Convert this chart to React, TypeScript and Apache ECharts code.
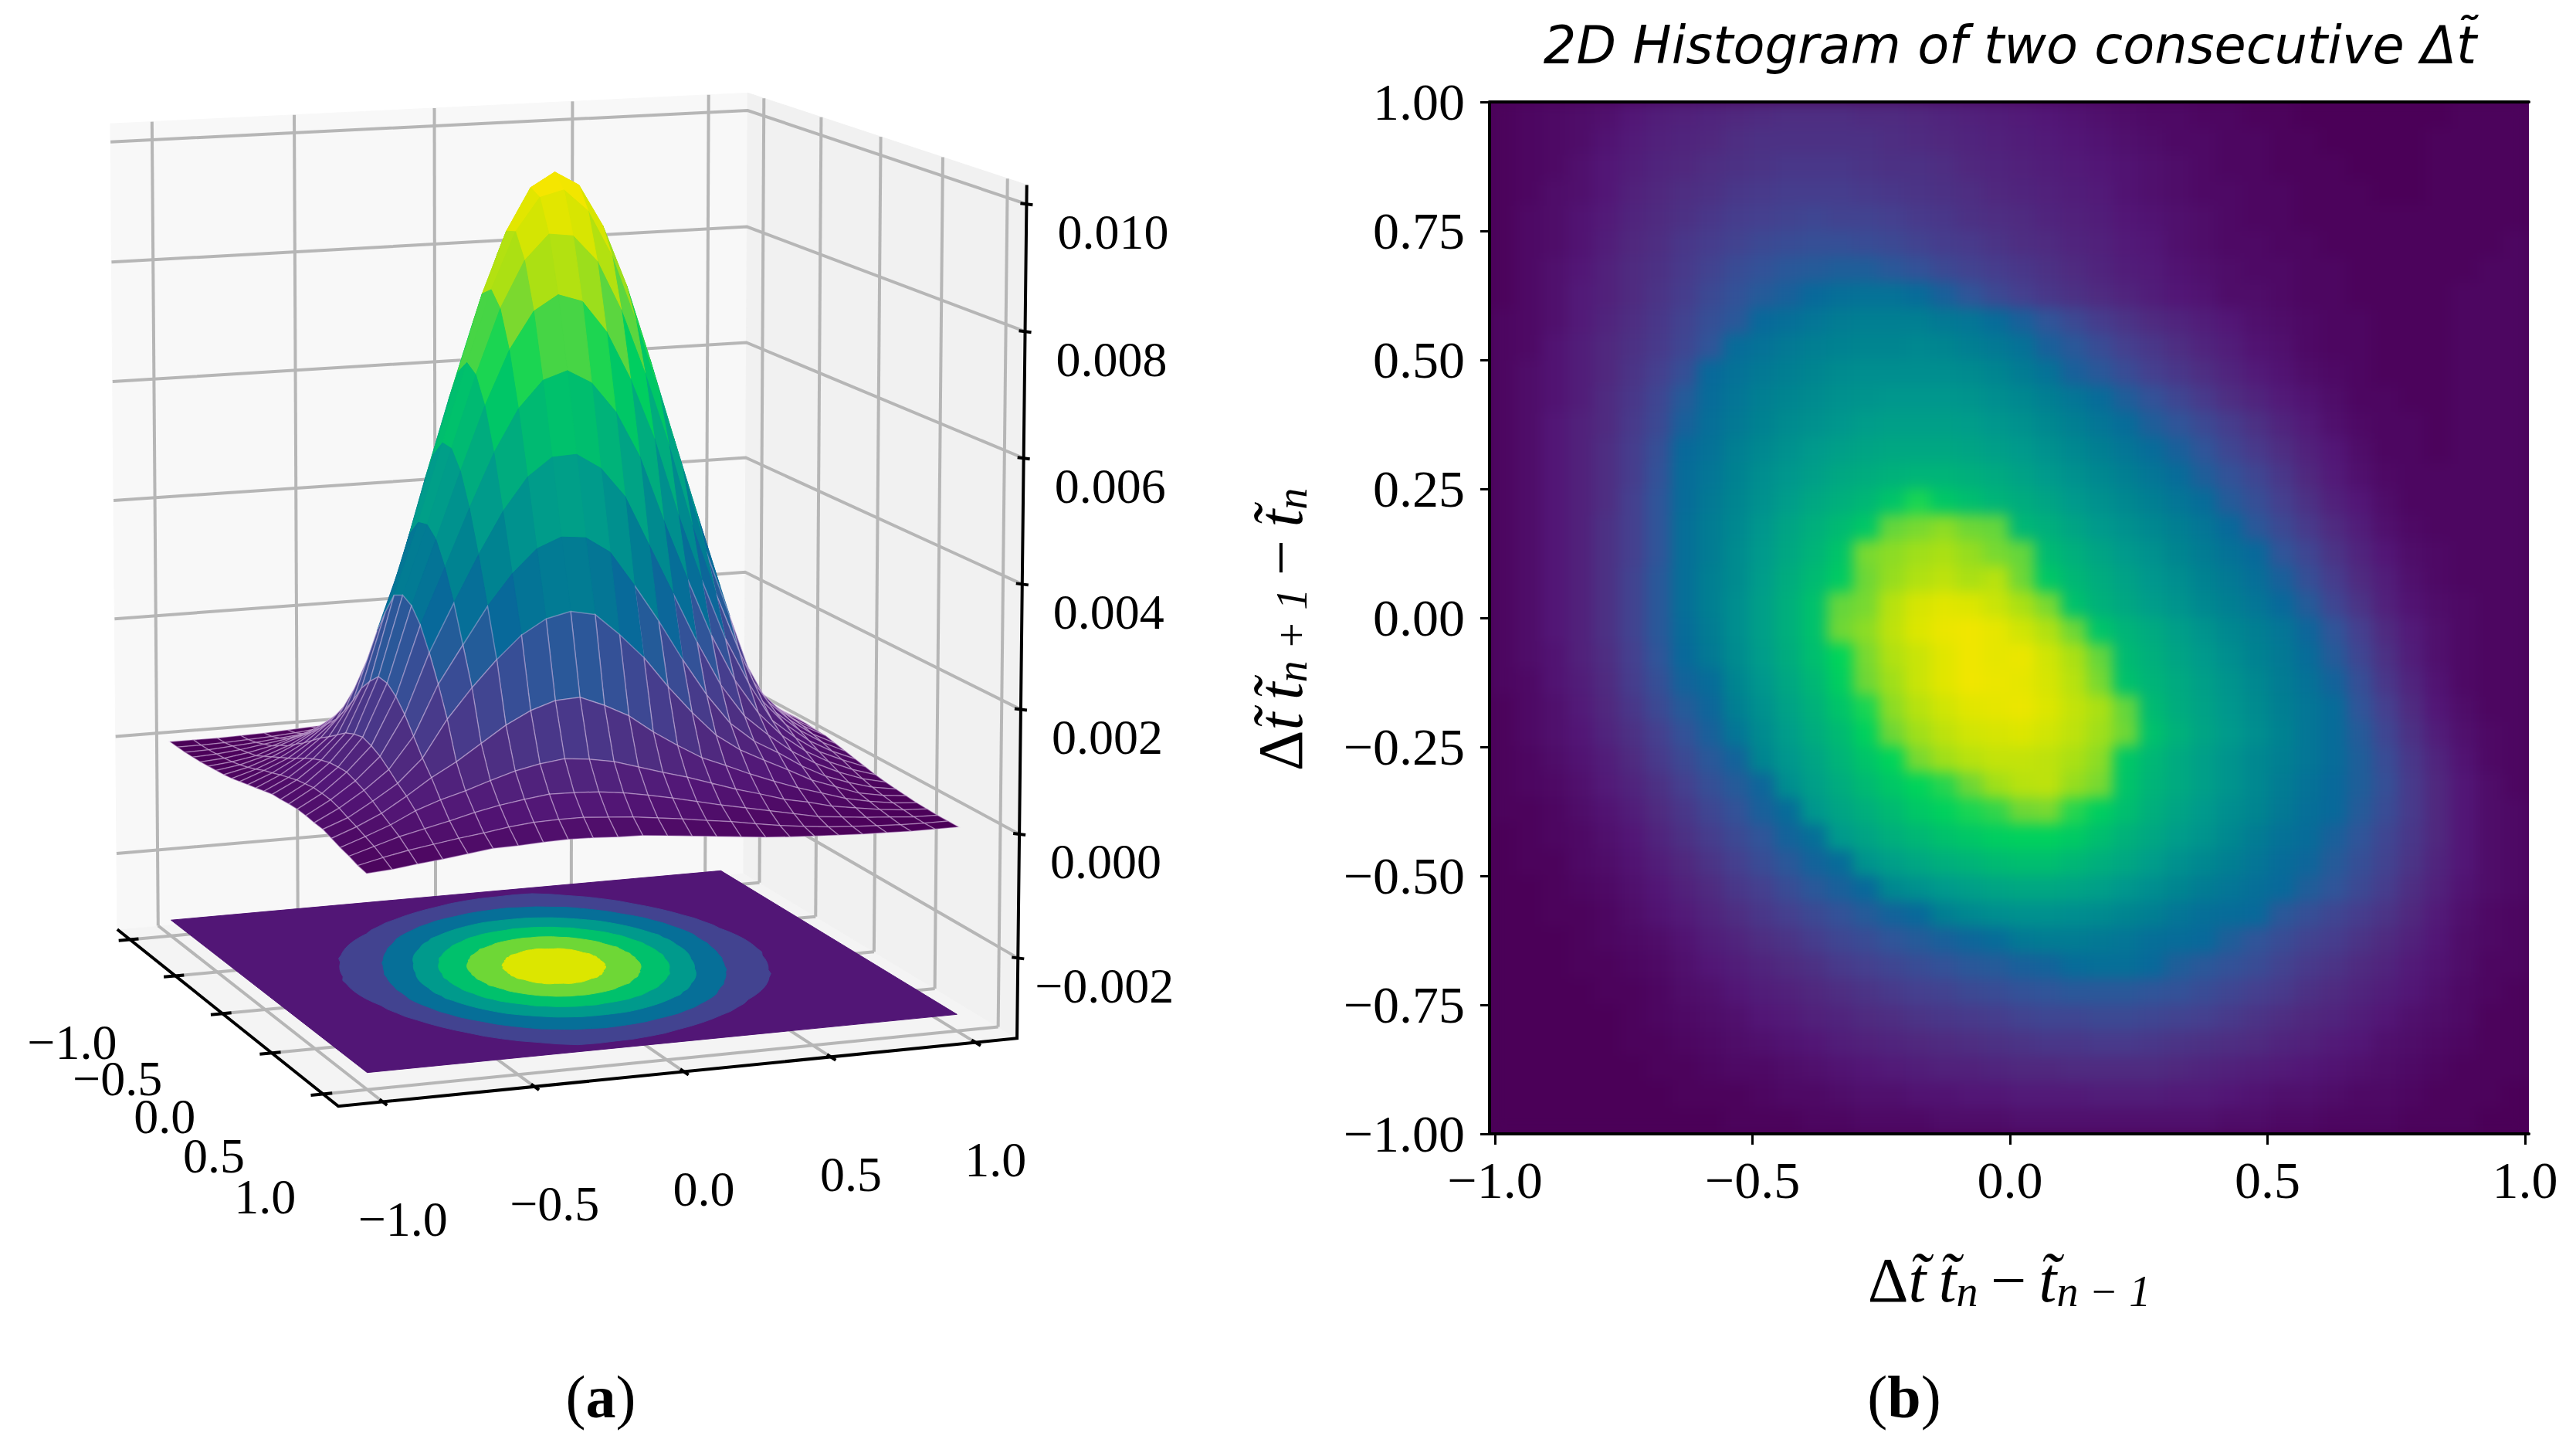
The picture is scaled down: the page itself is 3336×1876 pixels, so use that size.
import React, { useEffect, useRef } from "react";
import * as echarts from "echarts";

// ---------- data: 3D surface panel (a), z in units of 1e-5, rows X=-1..1, columns Y=-1..1
const surfaceM12 = [1,1,1,2,3,5,7,9,12,16,20,24,28,32,33,35,36,35,33,32,27,22,18,13,10];
const surfaceM11 = [1,1,2,4,6,9,13,18,24,31,36,42,47,52,55,58,58,57,53,47,42,36,30,22,13];
const surfaceM10 = [1,2,5,8,12,16,24,32,40,48,57,66,74,81,86,88,89,84,78,70,60,51,42,30,18];
const surfaceM9 = [2,4,8,14,20,30,38,50,61,74,87,98,110,122,129,133,128,120,108,95,84,70,51,36,22];
const surfaceM8 = [3,6,12,20,32,44,58,73,90,106,129,154,183,203,219,217,204,184,158,132,110,84,60,42,27];
const surfaceM7 = [5,9,16,30,44,64,83,103,130,170,215,265,305,340,348,339,316,280,238,191,132,95,70,47,32];
const surfaceM6 = [7,13,24,38,58,83,105,137,187,247,313,373,429,455,459,443,406,357,298,238,158,108,78,53,33];
const surfaceM5 = [9,18,32,50,73,103,137,191,264,346,427,508,556,581,579,550,498,431,357,280,184,120,84,57,35];
const surfaceM4 = [12,24,40,61,90,130,187,264,358,456,562,637,686,708,695,652,584,498,406,316,204,128,89,58,36];
const surfaceM3 = [16,31,48,74,106,170,247,346,456,581,680,759,810,823,799,739,652,550,443,339,217,133,88,58,35];
const surfaceM2 = [20,36,57,87,129,215,313,427,562,680,785,866,909,914,874,799,695,579,459,348,219,129,86,55,33];
const surfaceM1 = [24,42,66,98,154,265,373,508,637,759,866,941,977,967,914,823,708,581,455,340,203,122,81,52,32];
const surface0 = [28,47,74,110,183,305,429,556,686,810,909,977,1000,977,909,810,686,556,429,305,183,110,74,47,28];
const surfaceP1 = [32,52,81,122,203,340,455,581,708,823,914,967,977,941,866,759,637,508,373,265,154,98,66,42,24];
const surfaceP2 = [33,55,86,129,219,348,459,579,695,799,874,914,909,866,785,680,562,427,313,215,129,87,57,36,20];
const surfaceP3 = [35,58,88,133,217,339,443,550,652,739,799,823,810,759,680,581,456,346,247,170,106,74,48,31,16];
const surfaceP4 = [36,58,89,128,204,316,406,498,584,652,695,708,686,637,562,456,358,264,187,130,90,61,40,24,12];
const surfaceP5 = [35,57,84,120,184,280,357,431,498,550,579,581,556,508,427,346,264,191,137,103,73,50,32,18,9];
const surfaceP6 = [33,53,78,108,158,238,298,357,406,443,459,455,429,373,313,247,187,137,105,83,58,38,24,13,7];
const surfaceP7 = [32,47,70,95,132,191,238,280,316,339,348,340,305,265,215,170,130,103,83,64,44,30,16,9,5];
const surfaceP8 = [27,42,60,84,110,132,158,184,204,217,219,203,183,154,129,106,90,73,58,44,32,20,12,6,3];
const surfaceP9 = [22,36,51,70,84,95,108,120,128,133,129,122,110,98,87,74,61,50,38,30,20,14,8,4,2];
const surfaceP10 = [18,30,42,51,60,70,78,84,89,88,86,81,74,66,57,48,40,32,24,16,12,8,5,2,1];
const surfaceP11 = [13,22,30,36,42,47,53,57,58,58,55,52,47,42,36,31,24,18,13,9,6,4,2,1,1];
const surfaceP12 = [10,13,18,22,27,32,33,35,36,35,33,32,28,24,20,16,12,9,7,5,3,2,1,1,1];
const surfaceRows = [surfaceM12,surfaceM11,surfaceM10,surfaceM9,surfaceM8,surfaceM7,surfaceM6,surfaceM5,surfaceM4,surfaceM3,surfaceM2,surfaceM1,surface0,surfaceP1,surfaceP2,surfaceP3,surfaceP4,surfaceP5,surfaceP6,surfaceP7,surfaceP8,surfaceP9,surfaceP10,surfaceP11,surfaceP12];

const xyTicks = [-1, -0.5, 0, 0.5, 1];
const zTicks = [-0.002, 0, 0.002, 0.004, 0.006, 0.008, 0.01];
const contourLevels = [150, 300, 450, 600, 750, 900];
const contourShades = [0.21, 0.36, 0.5, 0.64, 0.79, 0.93];

// ---------- data: heatmap panel (b), rows from y=1 down to y=-1, columns x=-1..1, percent of colour range
const hist0 = [1,2,3,4,5,7,9,10,11,12,13,14,14,14,13,13,12,11,10,9,8,7,6,5,4,3,3,2,2,1,1,0,0,0,0,0,0,1,1,1];
const hist1 = [1,2,3,4,6,8,10,11,12,14,15,15,15,15,15,14,13,12,11,10,9,8,7,6,5,4,3,3,2,2,1,1,0,0,0,0,1,1,1,1];
const hist2 = [1,2,3,5,7,9,11,12,14,15,16,17,17,17,16,15,15,14,12,11,10,9,8,7,6,5,4,3,2,2,1,1,1,0,0,0,1,1,1,1];
const hist3 = [1,2,4,5,7,10,12,14,15,17,18,19,19,19,18,17,16,15,14,12,11,10,9,8,6,5,4,3,3,2,2,1,1,1,0,0,1,1,1,1];
const hist4 = [1,3,4,6,8,11,13,15,17,19,20,21,22,21,21,20,18,17,15,14,13,11,10,9,7,6,5,4,3,2,2,1,1,1,1,1,1,1,1,1];
const hist5 = [1,3,4,6,9,12,14,17,19,21,23,24,25,25,24,23,21,19,18,16,14,13,11,10,8,7,5,4,3,3,2,2,1,1,1,1,1,1,1,2];
const hist6 = [1,3,5,7,10,13,15,18,21,24,26,28,29,30,30,28,26,23,21,19,17,15,13,11,9,8,6,5,4,3,3,2,2,1,1,1,1,1,2,2];
const hist7 = [1,3,5,8,10,13,16,19,23,26,29,31,34,36,37,37,35,31,27,23,20,17,15,13,11,9,7,6,4,4,3,2,2,1,1,1,1,2,2,2];
const hist8 = [2,3,5,8,11,14,17,21,25,28,34,36,38,40,41,41,41,39,38,35,31,27,23,19,16,13,11,9,7,5,4,3,2,2,1,1,1,2,2,2];
const hist9 = [2,3,6,9,12,15,18,22,27,35,37,39,41,42,43,43,44,43,41,39,37,31,28,24,20,17,14,11,9,6,5,3,2,2,1,1,1,2,2,2];
const hist10 = [2,4,6,9,12,16,20,25,34,37,39,41,43,45,46,46,46,46,45,43,40,37,31,28,24,20,17,14,11,8,6,4,3,2,1,1,1,2,2,2];
const hist11 = [2,4,6,9,13,17,22,29,35,38,41,43,45,47,48,49,49,49,48,46,44,41,38,35,30,26,22,18,14,11,8,6,4,2,2,1,1,2,2,2];
const hist12 = [2,4,7,10,13,18,23,31,36,39,42,45,47,49,51,52,52,52,51,49,47,44,41,38,35,30,27,23,19,15,11,8,5,3,2,2,1,2,2,2];
const hist13 = [2,4,7,10,14,19,25,34,37,41,44,47,50,52,54,55,55,55,54,52,50,47,44,41,38,35,31,27,22,18,14,10,7,4,2,2,1,2,2,2];
const hist14 = [2,4,7,10,14,19,26,35,38,42,46,49,52,55,57,59,60,60,58,56,53,50,47,44,41,38,35,30,26,22,17,12,8,5,3,2,2,2,2,2];
const hist15 = [2,4,7,10,14,20,27,35,39,43,47,51,55,58,61,65,72,66,63,60,57,54,50,47,44,41,38,35,29,25,20,15,10,7,4,2,2,2,2,2];
const hist16 = [2,4,7,10,15,20,27,36,40,44,49,54,58,62,66,78,80,82,79,78,61,58,54,50,47,44,41,38,34,28,23,18,13,9,5,3,2,2,2,2];
const hist17 = [2,4,7,10,15,20,27,36,40,45,50,55,60,65,80,82,84,85,83,80,78,62,58,54,50,47,43,40,37,34,27,22,16,11,7,4,3,2,2,2];
const hist18 = [2,4,7,10,15,21,28,36,41,45,51,57,62,67,79,83,86,88,85,87,79,66,61,57,53,49,46,42,39,36,31,25,19,13,9,5,3,2,2,2];
const hist19 = [2,4,7,10,15,21,28,36,41,46,52,58,64,78,80,87,92,94,93,90,85,80,64,59,55,51,48,44,41,38,34,29,22,16,10,6,4,3,2,2];
const hist20 = [2,4,7,10,15,21,28,35,40,46,52,58,64,79,82,88,93,96,97,95,91,86,79,65,60,56,52,48,44,41,38,33,27,20,13,8,5,3,2,2];
const hist21 = [2,4,6,10,14,20,27,34,39,45,51,57,63,70,80,86,90,94,97,95,96,91,85,78,62,58,54,50,46,42,39,35,29,22,15,9,5,3,2,2];
const hist22 = [2,3,6,9,13,19,25,32,35,43,49,55,61,68,79,84,90,94,97,96,95,92,87,80,64,60,56,52,48,44,40,37,32,25,17,11,6,3,2,2];
const hist23 = [1,3,5,8,12,17,23,29,33,41,47,53,59,65,72,82,87,91,94,95,96,93,89,85,78,62,57,53,49,45,41,38,35,27,20,13,7,4,2,2];
const hist24 = [1,3,5,7,11,15,20,26,31,38,45,51,57,62,69,79,84,88,91,92,93,91,88,84,79,64,59,54,50,46,42,38,35,29,22,15,9,5,3,2];
const hist25 = [1,2,4,6,9,13,18,23,28,32,43,49,54,60,65,70,80,84,87,89,89,88,85,82,66,61,56,52,48,44,41,38,35,30,24,17,11,6,3,2];
const hist26 = [1,2,3,5,8,11,15,20,25,29,33,46,52,57,62,66,70,73,79,84,87,88,83,80,65,60,56,52,48,44,40,37,34,30,25,18,12,7,4,2];
const hist27 = [1,1,2,4,6,9,13,17,22,26,31,35,49,54,58,62,66,69,72,74,79,80,73,68,63,58,54,50,46,43,39,36,34,29,24,18,12,7,4,3];
const hist28 = [0,1,2,3,5,7,11,15,19,23,27,32,36,50,54,58,61,64,66,68,69,69,67,63,59,55,51,48,44,40,37,35,31,27,22,17,12,7,4,3];
const hist29 = [0,1,1,3,4,6,9,12,16,20,24,28,32,35,48,52,55,58,60,62,63,63,61,58,55,51,47,44,41,38,35,33,29,25,21,16,11,7,4,3];
const hist30 = [0,0,1,2,3,5,7,10,13,17,20,24,28,31,34,44,47,50,52,54,55,55,54,52,49,46,43,40,38,36,34,30,27,23,19,14,10,6,4,3];
const hist31 = [0,0,1,1,2,4,6,8,11,14,17,20,23,26,29,32,34,41,44,46,47,47,46,45,43,41,38,36,35,34,28,25,22,19,16,12,8,5,3,2];
const hist32 = [0,0,0,1,2,3,4,6,9,11,14,16,19,22,24,27,29,31,33,35,39,40,40,39,38,36,35,34,30,27,24,21,19,16,13,10,7,4,3,2];
const hist33 = [0,0,0,1,1,2,3,5,7,9,11,13,15,18,20,22,24,26,28,29,31,32,35,36,36,34,30,28,26,24,21,18,16,13,11,8,6,4,2,2];
const hist34 = [0,0,0,0,1,1,2,4,5,7,9,10,12,14,16,18,20,21,23,24,26,27,28,28,28,27,26,24,22,20,18,15,13,11,9,7,5,3,2,1];
const hist35 = [0,0,0,0,0,1,2,3,4,5,7,8,10,11,13,14,16,17,18,19,21,22,22,23,23,22,21,20,18,16,14,12,11,9,7,5,4,3,1,1];
const hist36 = [0,0,0,0,0,1,1,2,3,4,5,6,7,9,10,11,12,13,14,15,16,17,17,18,18,17,16,15,14,13,11,10,8,7,5,4,3,2,1,1];
const hist37 = [0,0,0,0,0,0,1,1,2,3,3,4,5,6,7,8,9,10,10,11,12,12,13,13,13,13,12,11,10,9,8,7,6,5,4,3,2,1,1,1];
const hist38 = [0,0,0,0,0,0,0,1,1,1,2,3,3,4,5,5,6,6,7,7,8,8,8,9,9,9,8,8,7,6,5,5,4,3,3,2,1,1,1,0];
const hist39 = [0,0,0,0,0,0,0,0,0,1,1,1,2,2,3,3,3,4,4,4,5,5,5,5,5,5,5,5,4,4,3,3,2,2,2,1,1,1,0,0];
const histRows = [hist0,hist1,hist2,hist3,hist4,hist5,hist6,hist7,hist8,hist9,hist10,hist11,hist12,hist13,hist14,hist15,hist16,hist17,hist18,hist19,hist20,hist21,hist22,hist23,hist24,hist25,hist26,hist27,hist28,hist29,hist30,hist31,hist32,hist33,hist34,hist35,hist36,hist37,hist38,hist39];

const xTickLabels = [-1, -0.5, 0, 0.5, 1];

// ---------- colour
const STOPS: [number, number[]][] = [
  [0, [75, 0, 88]], [0.07, [82, 22, 118]], [0.13, [79, 43, 128]], [0.2, [69, 64, 143]], [0.27, [48, 85, 153]],
  [0.34, [8, 105, 154]], [0.42, [0, 130, 145]], [0.5, [0, 154, 140]], [0.6, [0, 180, 120]], [0.7, [0, 212, 90]],
  [0.78, [100, 214, 60]], [0.85, [170, 224, 20]], [0.93, [220, 230, 0]], [1, [255, 230, 0]],
];
function cmap(t: number) {
  const v = Math.max(0, Math.min(1, t));
  for (let i = 1; i < STOPS.length; i++) {
    if (v <= STOPS[i][0]) {
      const [a, ca] = STOPS[i - 1];
      const [b, cb] = STOPS[i];
      const f = (v - a) / (b - a);
      return `rgb(${ca.map((c, k) => Math.round(c + (cb[k] - c) * f)).join(",")})`;
    }
  }
  return "rgb(255,230,0)";
}

// ---------- 3D camera fitted to the box corners in the picture
const A = 1.145;
const ZMIN = -0.0033;
const ZMAX = 0.0103;
const CONTOUR_Z = -0.00303;
const CONTOUR_TILT = -0.5;
const CONTOUR_SPREAD = 1.1;
const Z_SCALE = 100;
function fitCamera() {
  const pts: [number, number, number, number, number][] = [
    [-A, A, ZMIN, 439, 1435], [A, A, ZMIN, 1316, 1342], [-A, -A, ZMIN, 151, 1200], [A, -A, ZMIN, 964, 1133],
    [-A, -A, ZMAX, 143, 161], [A, -A, ZMAX, 968, 120], [A, A, ZMAX, 1330, 239],
  ];
  const N = Array.from({ length: 11 }, () => new Array(12).fill(0));
  const add = (r: number[], b: number) => {
    for (let i = 0; i < 11; i++) { for (let j = 0; j < 11; j++) N[i][j] += r[i] * r[j]; N[i][11] += r[i] * b; }
  };
  for (const [x, y, z0, u, v] of pts) {
    const z = z0 * Z_SCALE;
    add([x, y, z, 1, 0, 0, 0, 0, -u * x, -u * y, -u * z], u);
    add([0, 0, 0, 0, x, y, z, 1, -v * x, -v * y, -v * z], v);
  }
  for (let c = 0; c < 11; c++) {
    let p = c;
    for (let r = c + 1; r < 11; r++) if (Math.abs(N[r][c]) > Math.abs(N[p][c])) p = r;
    [N[c], N[p]] = [N[p], N[c]];
    for (let r = 0; r < 11; r++) {
      if (r === c) continue;
      const f = N[r][c] / N[c][c];
      for (let k = c; k < 12; k++) N[r][k] -= f * N[c][k];
    }
  }
  return N.map((row, i) => row[11] / row[i]);
}
const cam = fitCamera();
function project(x: number, y: number, zv: number): number[] {
  const z = zv * Z_SCALE;
  const w = cam[8] * x + cam[9] * y + cam[10] * z + 1;
  return [(cam[0] * x + cam[1] * y + cam[2] * z + cam[3]) / w, (cam[4] * x + cam[5] * y + cam[6] * z + cam[7]) / w];
}

// ---------- scene primitives, built from the tick and surface arrays
type Prim =
  | { k: "poly"; pts: number[][]; fill: string; stroke?: string; lw?: number }
  | { k: "line"; pts: number[][]; stroke: string; lw: number }
  | { k: "text"; x: number; y: number; text: string };

function surfaceAt(x: number, y: number) {
  const n = surfaceRows.length - 1;
  const fx = Math.max(0, Math.min(n - 1e-6, ((x + 1) / 2) * n));
  const fy = Math.max(0, Math.min(n - 1e-6, ((y + 1) / 2) * n));
  const i = Math.floor(fx), j = Math.floor(fy), a = fx - i, b = fy - j;
  return (surfaceRows[i][j] * (1 - a) + surfaceRows[i + 1][j] * a) * (1 - b) + (surfaceRows[i][j + 1] * (1 - a) + surfaceRows[i + 1][j + 1] * a) * b;
}

function buildScene(): Prim[] {
  const out: Prim[] = [];
  const P = project;
  const grid = "#b6b6b6";
  out.push({ k: "poly", pts: [P(-A, -A, ZMIN), P(A, -A, ZMIN), P(A, A, ZMIN), P(-A, A, ZMIN)], fill: "#f4f4f4" });
  out.push({ k: "poly", pts: [P(-A, -A, ZMIN), P(A, -A, ZMIN), P(A, -A, ZMAX), P(-A, -A, ZMAX)], fill: "#f8f8f8" });
  out.push({ k: "poly", pts: [P(A, -A, ZMIN), P(A, A, ZMIN), P(A, A, ZMAX), P(A, -A, ZMAX)], fill: "#f1f1f1" });
  for (const t of xyTicks) {
    out.push({ k: "line", pts: [P(t, -A, ZMIN), P(t, -A, ZMAX)], stroke: grid, lw: 4 });
    out.push({ k: "line", pts: [P(A, t, ZMIN), P(A, t, ZMAX)], stroke: grid, lw: 4 });
    out.push({ k: "line", pts: [P(t, -A, ZMIN), P(t, A, ZMIN)], stroke: grid, lw: 4 });
    out.push({ k: "line", pts: [P(-A, t, ZMIN), P(A, t, ZMIN)], stroke: grid, lw: 4 });
  }
  for (const z of zTicks) {
    out.push({ k: "line", pts: [P(-A, -A, z), P(A, -A, z), P(A, A, z)], stroke: grid, lw: 4 });
  }
  // black axes
  out.push({ k: "line", pts: [P(-A, -A, ZMIN), P(-A, A, ZMIN), P(A, A, ZMIN), P(A, A, ZMAX)], stroke: "#000", lw: 4 });
  const fmt = (v: number, d: number) => v.toFixed(d).replace("-", "\u2212");
  for (const t of xyTicks) {
    out.push({ k: "line", pts: [P(t, A - 0.03, ZMIN), P(t, A + 0.04, ZMIN)], stroke: "#000", lw: 4 });
    out.push({ k: "line", pts: [P(-A + 0.03, t, ZMIN), P(-A - 0.04, t, ZMIN)], stroke: "#000", lw: 4 });
    const a = P(t, A, ZMIN);
    out.push({ k: "text", x: a[0] + 26, y: a[1] + 152, text: fmt(t, 1) });
    const b = P(-A, t, ZMIN);
    out.push({ k: "text", x: b[0] - 75, y: b[1] + 133, text: fmt(t, 1) });
  }
  for (const z of zTicks) {
    const a = P(A, A, z);
    out.push({ k: "line", pts: [[a[0] - 8, a[1] - 1], [a[0] + 8, a[1] + 1]], stroke: "#000", lw: 4 });
    out.push({ k: "text", x: a[0] + 112, y: a[1] + 36, text: fmt(z, 3) });
  }
  // contour plane
  const corner = [P(-1, -1, CONTOUR_Z), P(1, -1, CONTOUR_Z), P(1, 1, CONTOUR_Z), P(-1, 1, CONTOUR_Z)];
  out.push({ k: "poly", pts: corner, fill: cmap(0.07) });
  contourLevels.forEach((lvl, li) => {
    const ring: number[][] = [];
    for (let d = 0; d < 96; d++) {
      const th = (d / 96) * Math.PI * 2;
      let r = 0;
      while (r < 1.4 && surfaceAt(r * Math.cos(th), r * Math.sin(th)) > lvl) r += 0.005;
      const t2 = th + CONTOUR_TILT;
      const r2 = r * CONTOUR_SPREAD;
      ring.push(P(r2 * Math.cos(t2), r2 * Math.sin(t2), CONTOUR_Z));
    }
    out.push({ k: "poly", pts: ring, fill: cmap(contourShades[li]) });
  });
  // surface, painted far to near
  const n = surfaceRows.length - 1;
  const at = (i: number) => -1 + (2 * i) / n;
  const facets: { key: number; prim: Prim }[] = [];
  for (let i = 0; i < n; i++) {
    for (let j = 0; j < n; j++) {
      const zs = [surfaceRows[i][j], surfaceRows[i + 1][j], surfaceRows[i + 1][j + 1], surfaceRows[i][j + 1]];
      const avg = (zs[0] + zs[1] + zs[2] + zs[3]) / 4;
      const col = cmap(avg / 1000);
      const low = avg < 330;
      facets.push({
        key: at(i) - at(j),
        prim: {
          k: "poly",
          pts: [P(at(i), at(j), zs[0] * 1e-5), P(at(i + 1), at(j), zs[1] * 1e-5), P(at(i + 1), at(j + 1), zs[2] * 1e-5), P(at(i), at(j + 1), zs[3] * 1e-5)],
          fill: col,
          stroke: low ? "rgba(225,200,235,0.4)" : col,
          lw: low ? 1.5 : 1,
        },
      });
    }
  }
  facets.sort((a, b) => b.key - a.key);
  facets.forEach((f) => out.push(f.prim));
  return out;
}

const scene = buildScene();

function renderPrim(params: any) {
  const p = scene[params.dataIndex];
  if (p.k === "poly") {
    return { type: "polygon", shape: { points: p.pts }, style: { fill: p.fill, stroke: p.stroke || p.fill, lineWidth: p.lw || 1 } };
  }
  if (p.k === "line") {
    return { type: "polyline", shape: { points: p.pts }, style: { fill: "none", stroke: p.stroke, lineWidth: p.lw } };
  }
  return {
    type: "text",
    style: { text: p.text, x: p.x, y: p.y, fill: "#000", font: '64px "Liberation Serif"', textAlign: "center", textVerticalAlign: "middle" },
  };
}

// ---------- heatmap
const X_MIN = -1.0105;
const X_MAX = 1.0075;
const histData: number[][] = [];
histRows.forEach((row, r) => row.forEach((v, c) => histData.push([c, r, v])));
function renderCell(_: any, api: any) {
  const c = api.value(0), r = api.value(1), v = api.value(2);
  const nx = histRows[0].length, ny = histRows.length;
  const x0 = X_MIN + (c / nx) * (X_MAX - X_MIN), x1 = X_MIN + ((c + 1) / nx) * (X_MAX - X_MIN);
  const y0 = 1 - (r / ny) * 2, y1 = 1 - ((r + 1) / ny) * 2;
  const a = api.coord([x0, y0]), b = api.coord([x1, y1]);
  const col = cmap(v / 100);
  return { type: "rect", shape: { x: a[0], y: a[1], width: b[0] - a[0], height: b[1] - a[1] }, style: { fill: col, stroke: col, lineWidth: 1 } };
}
const minus = (s: string) => s.replace("-", "\u2212");

const mathRich = {
  r: { fontFamily: "Liberation Serif", fontSize: 82, color: "#000" },
  i: { fontFamily: "Liberation Serif", fontStyle: "italic", fontSize: 82, color: "#000" },
  s: { fontFamily: "Liberation Serif", fontStyle: "italic", fontSize: 56, color: "#000", verticalAlign: "bottom", padding: [30, 0, 0, 0] },
};
const captionRich = { b: { fontFamily: "Liberation Serif", fontWeight: "bold", fontSize: 78, fill: "#000" } };

export default function App() {
  const ref = useRef<HTMLDivElement>(null);
  const heatRef = useRef<HTMLDivElement>(null);
  useEffect(() => {
    document.body.style.margin = "0";
    const heat = echarts.init(heatRef.current!, undefined, { renderer: "svg" });
    heat.setOption({
      animation: false,
      grid: { left: 0, right: 0, top: 0, bottom: 0 },
      xAxis: { type: "value", min: X_MIN, max: X_MAX, show: false },
      yAxis: { type: "value", min: -1, max: 1, show: false },
      series: [{ type: "custom", coordinateSystem: "cartesian2d", silent: true, data: histData, encode: { x: 0, y: 1 }, renderItem: renderCell }],
    });
    const chart = echarts.init(ref.current!, undefined, { renderer: "svg" });
    chart.setOption({
      animation: false,
      backgroundColor: "transparent",
      title: {
        text: "2D Histogram of two consecutive \u0394t\u0303",
        left: 2598,
        top: 20,
        textAlign: "center",
        textStyle: { fontFamily: "DejaVu Sans", fontStyle: "italic", fontWeight: "normal", fontSize: 67, color: "#000" },
      },
      grid: { left: 1929, top: 132, width: 1346, height: 1336, containLabel: false },
      xAxis: [
        {
          type: "value", min: X_MIN, max: X_MAX, position: "bottom", splitLine: { show: false },
          axisLine: { show: true, onZero: false, lineStyle: { color: "#000", width: 4 } },
          axisTick: { show: true, customValues: xTickLabels, length: 14, lineStyle: { color: "#000", width: 3 } },
          axisLabel: { show: true, customValues: xTickLabels, margin: 26, fontFamily: "Liberation Serif", fontSize: 68, color: "#000", formatter: (v: number) => minus(v.toFixed(1)) },
          name: "{r|\u0394}{i|t\u0303}{r|\u2009}{i|t\u0303}{s|n}{r|\u2009\u2212\u2009}{i|t\u0303}{s|n \u2212 1}",
          nameLocation: "middle", nameGap: 146, nameTextStyle: { rich: mathRich },
        },
        {
          type: "value", min: X_MIN, max: X_MAX, position: "top", splitLine: { show: false },
          axisLine: { show: true, onZero: false, lineStyle: { color: "#000", width: 4 } },
          axisTick: { show: false }, axisLabel: { show: false },
        },
      ],
      yAxis: {
        type: "value", min: -1, max: 1, interval: 0.25, splitLine: { show: false },
        axisLine: { show: true, onZero: false, lineStyle: { color: "#000", width: 4 } },
        axisTick: { show: true, length: 12, lineStyle: { color: "#000", width: 3 } },
        axisLabel: { margin: 32, fontFamily: "Liberation Serif", fontSize: 68, color: "#000", formatter: (v: number) => minus(v.toFixed(2)) },
        name: "{r|\u0394}{i|t\u0303}{r|\u2009}{i|t\u0303}{s|n + 1}{r|\u2009\u2212\u2009}{i|t\u0303}{s|n}",
        nameLocation: "middle", nameRotate: 90, nameGap: 228, nameTextStyle: { rich: mathRich, padding: [0, 30, 0, 0] },
      },
      series: [
        { type: "custom", coordinateSystem: "none", silent: true, clip: false, data: scene.map((_, i) => [i]), renderItem: renderPrim, z: 1 },
      ],
      graphic: [
        { type: "text", x: 778, y: 1808, style: { text: "({b|a})", font: '78px "Liberation Serif"', fill: "#000", textAlign: "center", textVerticalAlign: "middle", rich: captionRich } },
        { type: "text", x: 2466, y: 1808, style: { text: "({b|b})", font: '78px "Liberation Serif"', fill: "#000", textAlign: "center", textVerticalAlign: "middle", rich: captionRich } },
      ],
    });
    return () => { chart.dispose(); heat.dispose(); };
  }, []);
  return (
    <div style={{ width: 3336, height: 1876, position: "absolute", left: 0, top: 0, background: "#fff" }}>
      <div style={{ position: "absolute", left: 1929, top: 132, width: 1346, height: 1336, overflow: "hidden", background: "#4b0058" }}>
        <div ref={heatRef} style={{ width: 1346, height: 1336, filter: "blur(9px)" }} />
      </div>
      <div ref={ref} style={{ width: 3336, height: 1876, position: "absolute", left: 0, top: 0 }} />
    </div>
  );
}
